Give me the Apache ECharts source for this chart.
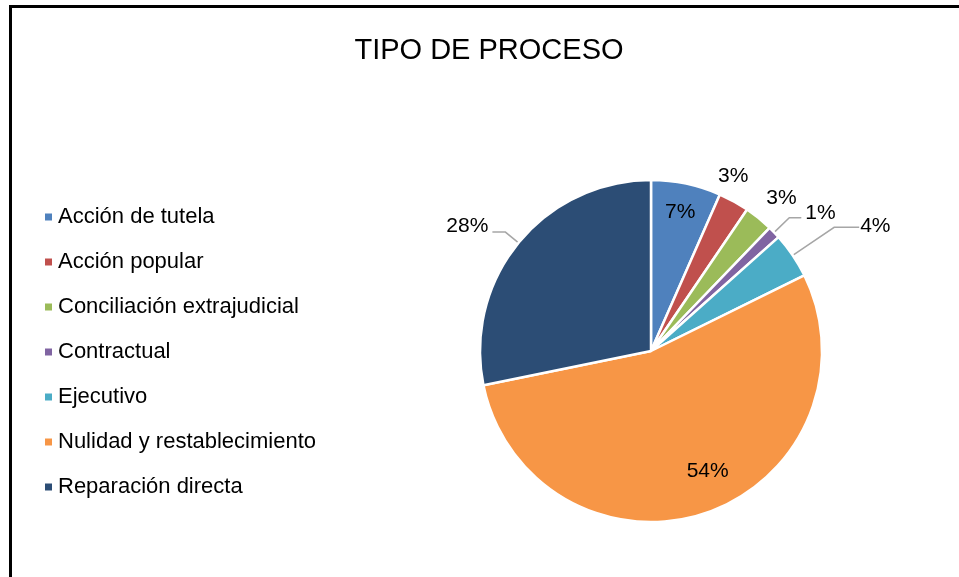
<!DOCTYPE html>
<html>
<head>
<meta charset="utf-8">
<script src="https://cdn.jsdelivr.net/npm/echarts@6/dist/echarts.min.js"></script>
<style>
  html, body { margin: 0; padding: 0; background: #fff; overflow: hidden; }
  .frame {
    position: absolute; left: 9px; top: 5px; width: 990px; height: 600px;
    border-top: 3px solid #000; border-left: 3px solid #000;
  }
  #chart { position: absolute; left: 0; top: 0; width: 959px; height: 577px; }
</style>
</head>
<body>
<div class="frame"></div>
<div id="chart"></div>
<script>
  // categories and their share (%)
  var categories = [
    'Acción de tutela',
    'Acción popular',
    'Conciliación extrajudicial',
    'Contractual',
    'Ejecutivo',
    'Nulidad y restablecimiento',
    'Reparación directa'
  ]
  var shares = [6.6, 2.9, 2.7, 1.2, 4.3, 54.1, 28.2]

  var colors = ['#4F81BD', '#C0504D', '#9BBB59', '#8064A2', '#4BACC6', '#F79646', '#2C4D75']
  var fontFamily = '"Liberation Sans", Arial, sans-serif'

  // label placement per slice (Excel style: some inside, some outside)
  var labelSetup = [
    { pos: 'inside', dx: 11, dy: -52 },
    { pos: 'outside', line: false, len: 15, len2: 0, dx: -27, dy: -12 },
    { pos: 'outside', line: false, len: 15, len2: 0, dx: -6, dy: -8 },
    { pos: 'outside', line: true, len: 21, len2: 12, dx: 0, dy: -5 },
    { pos: 'outside', line: true, len: 50, len2: 25, dx: -3, dy: -1 },
    { pos: 'inside', dx: 28, dy: 36 },
    { pos: 'outside', line: true, len: 17, len2: 13, dx: 0, dy: -6 }
  ]

  var chart = echarts.init(document.getElementById('chart'))

  var pieData = categories.map(function (name, i) {
    var s = labelSetup[i]
    var item = {
      name: name,
      value: shares[i],
      label: { position: s.pos }
    }
    if (s.pos === 'outside') {
      item.labelLine = { show: s.line, length: s.len, length2: s.len2 }
    }
    return item
  })

  chart.setOption({
    color: colors,
    animation: false,
    title: {
      text: 'TIPO DE PROCESO',
      left: 484,
      textAlign: 'center',
      top: 31,
      textStyle: {
        fontFamily: fontFamily,
        fontSize: 29,
        fontWeight: 'normal',
        color: '#000'
      }
    },
    legend: {
      orient: 'vertical',
      left: 38,
      top: 201,
      itemWidth: 9,
      itemHeight: 9,
      itemGap: 23,
      icon: 'rect',
      textStyle: {
        fontFamily: fontFamily,
        fontSize: 22,
        color: '#000'
      },
      data: categories
    },
    series: [
      {
        type: 'pie',
        center: [651, 351],
        radius: 171,
        startAngle: 90,
        clockwise: true,
        avoidLabelOverlap: false,
        itemStyle: {
          borderColor: '#fff',
          borderWidth: 2.5
        },
        label: {
          fontFamily: fontFamily,
          fontSize: 21,
          color: '#000',
          distanceToLabelLine: 4,
          formatter: function (p) {
            return Math.round(p.percent) + '%'
          }
        },
        labelLine: {
          lineStyle: { color: '#A6A6A6', width: 1.5 }
        },
        labelLayout: function (params) {
          var s = labelSetup[params.dataIndex]
          return { dx: s.dx, dy: s.dy }
        },
        data: pieData
      }
    ]
  })
</script>
</body>
</html>
